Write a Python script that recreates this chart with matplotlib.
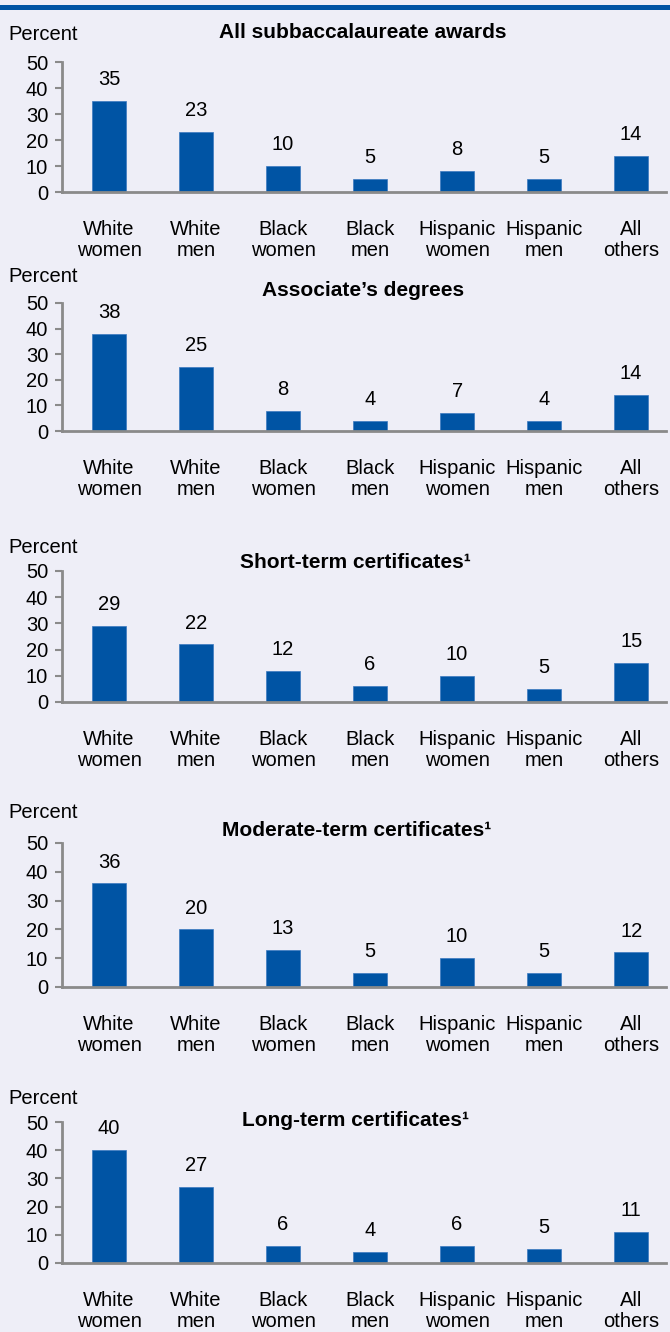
import numpy as np
import matplotlib.pyplot as plt

plt.rcParams['font.family'] = ['Liberation Sans', 'DejaVu Sans']

categories = ["White\nwomen", "White\nmen", "Black\nwomen", "Black\nmen",
              "Hispanic\nwomen", "Hispanic\nmen", "All\nothers"]
titles = ["All subbaccalaureate awards", "Associate\u2019s degrees",
          "Short-term certificates\u00b9", "Moderate-term certificates\u00b9",
          "Long-term certificates\u00b9"]
all_awards = [35, 23, 10, 5, 8, 5, 14]
associate = [38, 25, 8, 4, 7, 4, 14]
short_term = [29, 22, 12, 6, 10, 5, 15]
moderate_term = [36, 20, 13, 5, 10, 5, 12]
long_term = [40, 27, 6, 4, 6, 5, 11]
series = [all_awards, associate, short_term, moderate_term, long_term]

W, H = 670, 1332
bg = '#EEEEF7'
bar_color = '#0054A4'
axis_color = '#8A8A8A'

# pixel layout of each panel: (y of 50 tick, y of 0 tick, y of title, y of "Percent")
panels = [(62, 192, 33, 35), (303, 431, 290, 276), (571, 702, 563, 548),
          (843, 987, 831, 813), (1122, 1263, 1121, 1098)]
title_x = [363, 363, 355, 357, 355]
fs = 14.5

fig = plt.figure(figsize=(W / 100, H / 100), dpi=100, facecolor=bg)

# blue rule across the top
fig.add_artist(plt.Line2D([0, 1], [1 - 6.5 / H, 1 - 6.5 / H], color=bar_color,
                          lw=5 * 72 / 100, transform=fig.transFigure))

left, right = 62, 666
for i, (y50, y0, ty, py) in enumerate(panels):
    ax = fig.add_axes([left / W, 1 - y0 / H, (right - left) / W, (y0 - y50) / H])
    ax.set_facecolor(bg)
    x = np.arange(len(categories))
    vals = series[i]
    ax.bar(x, vals, width=0.39, color=bar_color, edgecolor='#3A78C0', linewidth=0.5)
    for xi, v in zip(x, vals):
        ax.annotate(str(v), (xi, v), xytext=(0, 8.5), textcoords='offset points',
                    ha='center', va='bottom', fontsize=fs)
    ax.set_xlim(-0.54, 6.4)
    ax.set_ylim(0, 50)
    ax.set_yticks([0, 10, 20, 30, 40, 50])
    ax.set_xticks(x)
    ax.set_xticklabels(categories, fontsize=fs, linespacing=1.15)
    ax.tick_params(axis='x', length=0, pad=20)
    ax.tick_params(axis='y', length=5, width=1.5, color=axis_color, labelsize=fs, pad=5)
    for s in ['top', 'right']:
        ax.spines[s].set_visible(False)
    for s in ['left', 'bottom']:
        ax.spines[s].set_color(axis_color)
        ax.spines[s].set_linewidth(2)
    fig.text(title_x[i] / W, 1 - ty / H, titles[i], ha='center', va='center',
             fontsize=15, fontweight='bold')
    fig.text(8 / W, 1 - py / H, "Percent", ha='left', va='center', fontsize=fs)

fig.savefig('out.png', dpi=100, facecolor=bg)
